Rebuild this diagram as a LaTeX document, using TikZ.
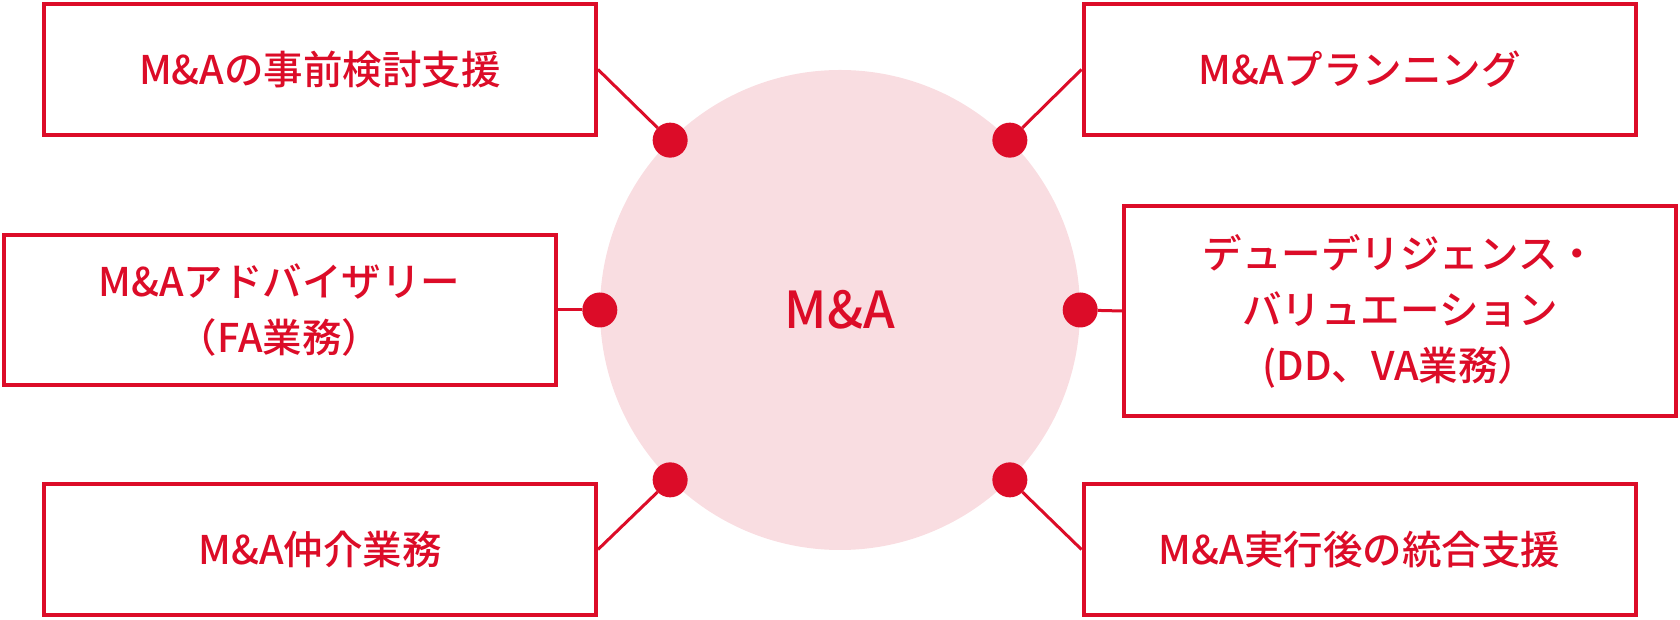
\documentclass[tikz,border=0pt]{standalone}
\usepackage{fontspec}
\setmainfont{Noto Sans CJK JP}
\newfontfamily\mafont{Noto Sans CJK JP Medium}
\usetikzlibrary{positioning}
\definecolor{mared}{RGB}{220,12,40}
\definecolor{mapink}{RGB}{249,221,225}
\begin{document}
\begin{tikzpicture}[x=1pt, y=1pt]
  \tikzstyle{box} = [draw = mared, line width = 4pt, text = mared,
                     minimum width = 552pt, minimum height = 131pt,
                     inner sep = 0, align = center,
                     font = \mafont\fontsize{39.5}{56}\selectfont]
  \tikzstyle{dot} = [circle, fill = mared, minimum size = 35pt, inner sep = 0]
  \tikzstyle{EdgeStyle} = [draw = mared, line width = 3pt]
\useasboundingbox (0,0) rectangle (1680,620);

\node[circle, fill = mapink, minimum size = 480pt, inner sep = 0,
      text = mared, font = \mafont\fontsize{51}{52}\selectfont] (C) at (840,310) {M\&A};

\node[box] (B0) at (320,550.5) {M\&Aの事前検討支援};
\node[box, minimum height = 150pt] (B1) at (279.5,310) {M\&Aアドバイザリー\\（FA業務）};
\node[box] (B2) at (320,70.5) {M\&A仲介業務};
\node[box] (B3) at (1359.5,550.5) {M\&Aプランニング};
\node[box, minimum height = 210pt] (B4) at (1400,309) {デューデリジェンス・\\バリュエーション\\(DD、VA業務）};
\node[box] (B5) at (1359.5,70.5) {M\&A実行後の統合支援};

\node[dot] (D0) at (C.135) {};
\node[dot] (D1) at (C.180) {};
\node[dot] (D2) at (C.225) {};
\node[dot] (D3) at (C.45) {};
\node[dot] (D4) at (C.0) {};
\node[dot] (D5) at (C.-45) {};

\draw[EdgeStyle] (D0) -- (B0.east);
\draw[EdgeStyle] (D1) -- (B1.east);
\draw[EdgeStyle] (D2) -- (B2.east);
\draw[EdgeStyle] (D3) -- (B3.west);
\draw[EdgeStyle] (D4) -- (B4.west);
\draw[EdgeStyle] (D5) -- (B5.west);

\end{tikzpicture}
\end{document}
